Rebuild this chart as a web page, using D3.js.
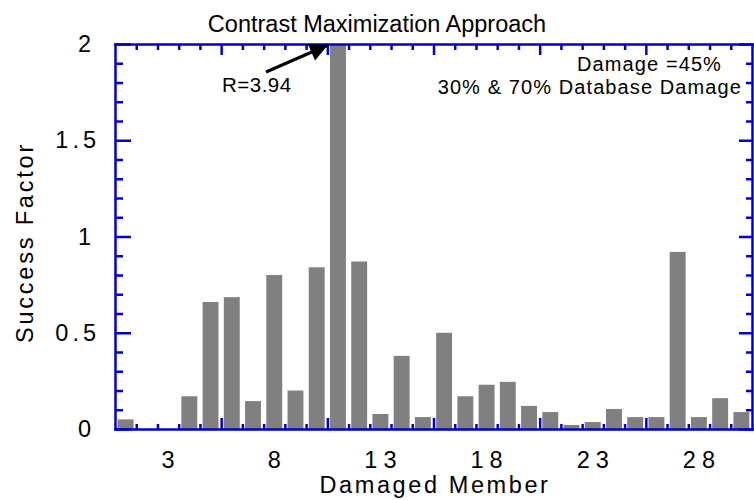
<!DOCTYPE html>
<html>
<head>
<meta charset="utf-8">
<script src="https://cdn.jsdelivr.net/npm/d3@7"></script>
<style>
    body { margin: 0; background: #fff; }
    text { font-family: "Liberation Sans", Arial, sans-serif; fill: #000; }
</style>
</head>
<body>
<div id="chart"></div>
<script>
//data
let members = d3.range(1, 31);
let successFactor = [0.05, 0, 0, 0.17, 0.66, 0.685, 0.145, 0.80, 0.20, 0.84,
                     3.94, 0.87, 0.078, 0.38, 0.062, 0.50, 0.17, 0.23, 0.245, 0.12,
                     0.088, 0.021, 0.036, 0.104, 0.062, 0.062, 0.92, 0.062, 0.16, 0.088];
let xTickLabels = [3, 8, 13, 18, 23, 28];
let yTickLabels = [0, 0.5, 1, 1.5, 2];
let notes = ["Damage =45%", "30% & 70% Database Damage"];
let peakLabel = "R=3.94";

//set svg size
let w = 754;
let h = 500;
let margin = {top: 44, right: 2, bottom: 71, left: 115};
let axisColor = "#0000d0";

let svg = d3.select("#chart")
            .append("svg")
            .attr("width", w)
            .attr("height", h);

//scales, members sit at whole numbers, ticks fall between them
let xScale = d3.scaleLinear()
                .domain([0.5, 30.5])
                .range([margin.left, w - margin.right]);

let yScale = d3.scaleLinear()
                .domain([0, 2])
                .range([h - margin.bottom, margin.top])
                .clamp(true);

let step = xScale(2) - xScale(1);
let barW = step * 0.75;

//bars
svg.append("g")
    .selectAll("rect")
    .data(members)
    .enter()
    .append("rect")
    .attr("x", (d, i) => xScale(d) - barW / 2)
    .attr("y", (d, i) => yScale(successFactor[i]))
    .attr("width", barW)
    .attr("height", (d, i) => yScale(0) - yScale(successFactor[i]))
    .attr("fill", "#808080");

//tick positions
let xTicks = d3.range(1, 30).map(d => d + 0.5);
let yTicks = d3.range(0, 21).map(d => d / 10);
let isMajorX = d => (d - 0.5) % 5 === 0;
let isMajorY = d => Math.round(d * 10) % 5 === 0;

//bottom and top axes, ticks pointing in
let xBottom = d3.axisBottom(xScale)
                .tickValues(xTicks)
                .tickFormat("")
                .tickSizeOuter(0);
let xTop = d3.axisTop(xScale)
                .tickValues(xTicks)
                .tickFormat("")
                .tickSizeOuter(0);

let gBottom = svg.append("g")
                .attr("transform", `translate(0, ${yScale(0)})`)
                .call(xBottom);
gBottom.selectAll(".tick line")
        .attr("y2", d => isMajorX(d) ? -11 : -5);

let gTop = svg.append("g")
                .attr("transform", `translate(0, ${yScale(2)})`)
                .call(xTop);
gTop.selectAll(".tick line")
        .attr("y2", d => isMajorX(d) ? 11 : 6);

//left and right axes
let yLeft = d3.axisLeft(yScale)
                .tickValues(yTicks)
                .tickFormat("")
                .tickSizeOuter(0);
let yRight = d3.axisRight(yScale)
                .tickValues(yTicks)
                .tickFormat("")
                .tickSizeOuter(0);

let gLeft = svg.append("g")
                .attr("transform", `translate(${xScale(0.5)}, 0)`)
                .call(yLeft);
gLeft.selectAll(".tick line")
        .attr("x2", d => isMajorY(d) ? 16 : 8);

let gRight = svg.append("g")
                .attr("transform", `translate(${xScale(30.5)}, 0)`)
                .call(yRight);
gRight.selectAll(".tick line")
        .attr("x2", d => isMajorY(d) ? -13 : -6);

svg.selectAll(".domain, .tick line")
    .attr("stroke", axisColor)
    .attr("stroke-width", 2.5);
svg.selectAll(".domain").attr("stroke-linecap", "square");

//tick labels
svg.append("g")
    .selectAll("text")
    .data(xTickLabels)
    .enter()
    .append("text")
    .attr("x", d => xScale(d) + 3)
    .attr("y", yScale(0) + 39)
    .attr("text-anchor", "middle")
    .style("font-size", "23.5px")
    .style("letter-spacing", "6px")
    .text(d => d);

//whole numbers sit a little further left than the decimals
svg.append("g")
    .selectAll("text")
    .data(yTickLabels)
    .enter()
    .append("text")
    .attr("x", d => Number.isInteger(d) ? 95 : 100)
    .attr("y", d => yScale(d) + 8)
    .attr("text-anchor", "end")
    .style("font-size", "23.5px")
    .style("letter-spacing", "4px")
    .text(d => d);

//titles
svg.append("text")
    .attr("x", w / 2)
    .attr("y", 32)
    .attr("text-anchor", "middle")
    .style("font-size", "23.5px")
    .text("Contrast Maximization Approach");

svg.append("text")
    .attr("x", (xScale(0.5) + xScale(30.5)) / 2 + 1.5)
    .attr("y", 493)
    .attr("text-anchor", "middle")
    .style("font-size", "23.5px")
    .style("letter-spacing", "2.6px")
    .text("Damaged Member");

svg.append("text")
    .attr("transform", `translate(33, ${(yScale(0) + yScale(2)) / 2 + 6}) rotate(-90)`)
    .attr("text-anchor", "middle")
    .style("font-size", "23.5px")
    .style("letter-spacing", "2.8px")
    .text("Success Factor");

//notes in the upper right
svg.append("g")
    .selectAll("text")
    .data(notes)
    .enter()
    .append("text")
    .attr("x", (d, i) => i === 0 ? 722 : 742)
    .attr("y", (d, i) => 71 + i * 23)
    .attr("text-anchor", "end")
    .style("font-size", "20px")
    .style("letter-spacing", "1.1px")
    .text(d => d);

//arrow to the clipped peak
svg.append("defs")
    .append("marker")
    .attr("id", "head")
    .attr("viewBox", "0 0 10 10")
    .attr("refX", 10)
    .attr("refY", 5)
    .attr("markerWidth", 7.5)
    .attr("markerHeight", 6)
    .attr("markerUnits", "strokeWidth")
    .attr("orient", "auto")
    .append("path")
    .attr("d", "M0,0 L10,5 L0,10 Z")
    .attr("fill", "#000");

let peak = successFactor.indexOf(d3.max(successFactor));
svg.append("line")
    .attr("x1", 266)
    .attr("y1", 72)
    .attr("x2", xScale(members[peak]) - 10)
    .attr("y2", yScale(2) + 1)
    .attr("stroke", "#000")
    .attr("stroke-width", 3)
    .attr("marker-end", "url(#head)");

svg.append("text")
    .attr("x", 222)
    .attr("y", 92)
    .style("font-size", "20.5px")
    .style("letter-spacing", "0.5px")
    .text(peakLabel);
</script>
</body>
</html>
